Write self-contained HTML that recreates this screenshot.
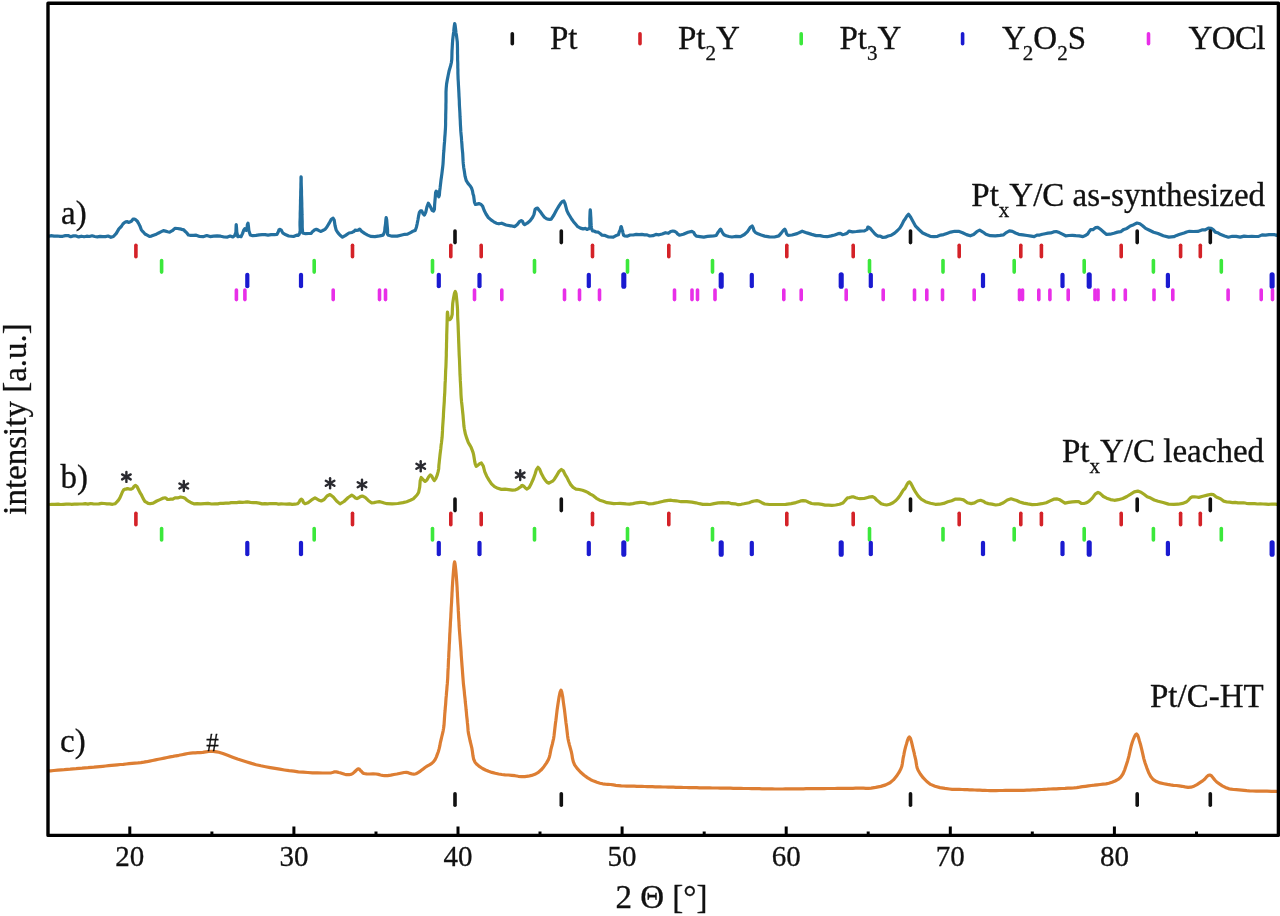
<!DOCTYPE html>
<html><head><meta charset="utf-8"><style>
html,body{margin:0;padding:0;background:#fff;}
svg{display:block;filter:blur(0.5px);}
text{font-family:"Liberation Serif",serif;fill:#111;stroke:#111;stroke-width:0.3px;}
</style></head><body>
<svg width="1280" height="916" viewBox="0 0 1280 916">
<rect width="1280" height="916" fill="#fff"/>
<polyline fill="none" stroke="#24709f" stroke-width="3.2" stroke-linejoin="round" stroke-linecap="round" points="49.4,236.1 50.9,235.7 54.1,236.2 57.4,236.0 60.1,236.3 62.7,236.3 65.4,235.6 68.1,235.5 70.7,236.7 73.4,235.9 76.1,235.9 78.7,236.9 81.4,236.2 84.1,236.7 86.7,236.2 89.4,236.5 92.1,235.8 94.7,236.5 97.4,236.8 100.1,236.4 102.7,236.7 105.4,236.6 108.1,236.0 110.9,237.3 113.4,236.5 116.3,233.4 118.9,228.9 121.3,226.5 122.9,224.0 124.4,222.6 126.0,221.8 127.3,221.6 128.5,222.4 129.8,221.9 131.4,221.3 133.0,219.1 134.5,219.0 135.9,219.9 137.1,220.9 138.4,223.1 139.9,225.9 141.4,230.0 143.1,231.8 145.0,234.0 147.2,235.2 149.4,236.4 151.4,236.1 153.5,235.3 155.6,234.6 158.2,233.2 160.8,231.9 163.4,230.6 165.5,231.1 167.6,231.7 169.7,232.1 172.3,230.7 174.9,228.4 177.5,228.5 179.7,228.8 181.8,229.4 183.8,229.9 185.3,231.6 186.7,232.7 188.4,235.0 190.8,235.4 193.4,235.3 196.2,235.2 199.6,236.5 203.1,236.7 206.7,235.5 210.1,236.6 213.6,236.1 217.1,235.8 220.6,236.2 224.2,237.0 227.5,237.1 230.2,236.1 232.8,237.0 234.8,235.4 235.9,232.4 236.1,226.5 236.2,224.5 236.5,227.4 236.8,232.2 237.8,236.7 238.8,236.4 239.9,236.3 241.0,236.7 242.5,233.6 243.7,230.2 244.8,228.6 245.3,229.5 245.8,230.0 246.2,230.4 246.9,229.3 247.4,224.4 248.0,223.1 248.4,225.9 248.9,230.8 250.3,234.9 252.8,235.7 256.0,235.4 259.2,234.9 262.1,234.7 265.1,234.7 268.0,235.1 271.2,234.6 274.4,234.7 276.9,234.5 278.2,232.0 279.0,229.7 280.0,229.4 281.3,230.1 282.7,232.9 284.7,234.3 288.7,236.0 293.5,236.5 297.2,235.1 298.4,235.3 299.2,234.4 299.8,232.4 300.2,230.8 300.1,227.7 300.0,225.2 300.0,222.0 300.1,219.8 300.2,217.2 300.2,213.5 300.3,210.8 300.4,209.0 300.4,206.7 300.5,203.0 300.5,200.6 300.6,198.1 300.7,195.0 300.7,192.4 300.8,189.6 300.9,187.0 300.9,184.6 301.0,180.9 301.0,177.7 301.1,176.8 301.2,177.4 301.2,181.8 301.3,185.7 301.4,188.0 301.5,190.9 301.5,194.7 301.6,196.9 301.7,199.8 301.8,203.1 301.8,206.5 301.9,208.6 302.0,211.9 302.0,214.9 302.1,218.6 302.2,221.0 302.2,224.7 302.2,226.9 302.4,229.8 302.6,231.6 302.8,233.1 303.4,233.3 305.6,233.7 308.7,233.5 311.2,233.4 312.4,231.7 313.3,231.0 314.4,230.0 316.3,229.3 318.5,230.3 320.6,231.4 322.8,230.5 324.9,229.4 326.9,227.0 329.2,223.2 331.3,219.3 333.1,218.2 334.2,220.1 335.0,225.5 336.2,230.2 338.0,232.9 340.1,235.3 342.5,237.2 345.6,235.4 349.0,233.0 351.9,232.5 353.0,231.8 354.0,231.4 355.0,230.2 356.5,230.4 358.2,230.1 359.7,229.1 360.8,230.4 361.7,231.4 362.8,232.1 365.0,233.6 367.7,235.1 370.6,236.4 374.9,236.6 379.6,235.9 383.1,235.1 384.2,232.8 384.7,231.1 385.0,227.4 385.5,224.3 385.9,219.4 386.2,217.6 386.7,219.9 387.1,224.9 387.5,229.1 387.6,231.0 387.6,234.4 388.5,235.3 392.1,236.2 397.2,236.1 401.9,235.0 404.8,234.3 407.5,234.2 410.0,232.9 411.9,231.8 413.7,230.9 415.2,230.5 416.4,227.2 417.1,224.1 417.9,220.0 418.6,215.9 419.4,212.4 420.5,210.8 421.7,210.9 423.1,213.8 424.4,215.0 425.8,212.0 426.9,207.1 428.3,203.2 430.1,206.1 432.1,210.3 433.6,211.1 434.4,209.3 434.6,205.1 434.9,201.3 435.3,196.9 435.6,192.7 436.2,191.2 437.0,191.8 438.0,195.0 438.8,196.8 439.4,194.9 439.7,190.7 440.1,187.9 440.5,184.4 441.0,180.0 441.4,177.2 441.9,173.6 442.3,170.3 442.7,167.0 443.0,164.1 443.2,160.8 443.4,157.2 443.6,153.6 443.9,150.5 444.1,147.0 444.3,144.3 444.6,141.2 444.8,137.5 445.1,133.8 445.3,130.6 445.5,127.6 445.6,124.7 445.6,121.6 445.7,117.8 445.7,115.1 445.8,111.6 445.9,108.1 445.9,104.7 446.0,101.6 446.0,98.6 446.0,95.0 446.0,92.1 446.2,88.4 446.6,83.9 447.3,79.9 448.1,75.7 449.2,70.4 450.4,66.6 451.4,62.3 451.8,59.2 451.9,55.6 452.0,51.1 452.2,48.0 452.4,44.1 452.7,39.8 453.0,37.1 453.4,33.9 453.7,32.0 454.0,28.4 454.4,25.2 454.7,23.5 455.1,25.1 455.6,29.2 456.0,33.0 456.5,35.6 457.0,39.6 457.3,42.0 457.4,45.0 457.5,48.6 457.5,50.2 457.5,53.0 457.6,55.8 457.6,59.6 457.7,61.3 457.8,63.8 457.8,67.7 457.9,69.4 457.9,73.1 458.0,75.6 458.1,78.8 458.3,81.8 458.4,84.2 458.6,87.5 458.7,89.3 458.9,93.2 459.0,95.8 459.2,99.0 459.3,101.0 459.4,104.9 459.6,108.0 459.7,109.7 459.9,113.0 460.0,116.2 460.2,119.5 460.3,121.6 460.4,124.4 460.6,127.4 460.8,131.2 461.1,134.7 461.4,137.5 461.6,140.7 461.9,144.1 462.1,147.3 462.4,150.7 462.7,153.5 462.9,157.4 463.1,161.2 463.3,163.7 463.7,167.5 464.3,171.1 465.1,176.4 466.3,180.7 468.0,183.4 470.0,185.7 471.6,188.2 472.5,191.0 473.0,194.0 473.6,195.6 474.0,198.4 474.5,202.3 475.5,204.5 477.0,204.1 478.9,203.6 480.7,204.2 482.6,206.1 484.1,210.3 486.0,214.0 488.3,217.5 491.0,219.9 493.8,221.8 496.3,223.2 498.9,223.8 501.7,223.2 506.0,225.0 510.7,225.8 514.8,226.6 517.3,224.5 519.4,221.7 521.3,220.5 522.5,221.3 523.5,223.7 524.7,224.6 527.2,223.2 530.1,220.7 532.5,217.6 534.0,214.4 535.1,209.3 536.4,208.4 537.6,208.2 538.9,210.0 540.3,211.6 542.3,214.5 544.4,217.2 546.6,218.7 548.1,219.1 549.7,219.4 551.2,219.1 553.9,215.0 556.5,210.0 559.0,205.9 560.7,203.3 562.3,201.5 563.8,201.0 565.0,203.5 565.9,206.8 566.9,210.6 568.3,213.7 569.8,216.0 571.6,219.0 573.5,221.7 575.5,224.0 577.8,226.7 580.4,228.1 583.1,228.9 585.6,228.4 587.0,229.5 588.2,228.9 589.2,228.6 589.9,226.8 589.8,222.3 589.8,218.8 589.9,216.0 590.1,211.4 590.3,209.8 590.5,211.8 590.7,215.6 590.9,218.3 591.0,222.0 591.2,225.4 591.5,228.0 591.7,228.5 592.0,229.8 592.5,230.9 594.0,231.0 596.0,232.0 598.1,232.2 600.1,233.5 602.1,235.2 604.4,235.3 608.6,237.0 613.3,237.2 616.9,235.2 618.4,234.8 619.3,231.8 620.0,230.4 620.5,228.8 620.9,226.7 621.2,226.6 621.6,227.5 622.0,229.6 622.5,230.7 623.0,233.1 623.6,235.2 624.7,236.0 627.1,236.2 630.2,235.0 633.3,235.0 636.2,234.4 639.1,234.6 641.9,234.4 644.5,234.8 647.1,234.9 649.7,236.0 652.8,235.7 655.9,234.4 659.0,234.8 662.2,234.0 665.4,232.7 668.4,233.3 670.7,231.5 672.8,231.0 674.7,231.4 676.3,232.3 677.6,233.9 679.4,235.2 683.3,234.3 688.0,232.3 691.9,231.4 693.6,232.3 694.9,234.8 696.6,236.2 699.9,236.6 703.8,237.1 707.5,236.4 710.6,236.1 713.7,235.8 716.2,235.5 718.0,232.4 719.3,230.6 720.6,229.1 721.7,231.1 722.6,232.9 724.0,234.8 726.2,235.8 729.0,236.5 731.9,237.0 736.0,236.4 740.5,236.7 744.4,234.5 747.5,231.6 750.1,227.6 752.2,225.9 753.3,228.2 754.0,230.7 755.3,232.3 757.9,233.8 761.2,235.0 764.7,236.1 769.4,236.9 774.5,237.0 778.8,235.9 781.2,233.1 783.1,230.6 784.7,229.1 785.8,231.1 786.6,233.9 788.1,235.4 792.0,235.0 797.1,233.6 802.2,231.2 806.9,232.9 811.7,234.4 816.2,235.6 820.0,235.6 823.6,236.5 827.2,236.7 831.0,235.9 834.7,235.0 838.1,233.7 840.4,233.3 842.5,234.6 844.4,234.2 845.9,233.7 847.3,233.0 849.0,231.2 852.4,231.8 856.4,231.5 860.0,231.1 862.4,231.0 864.5,230.8 866.2,229.9 867.2,229.3 867.8,227.2 868.6,227.2 870.2,228.4 872.0,230.5 874.0,232.8 876.0,234.9 878.1,236.2 880.3,236.1 882.8,237.5 885.4,237.2 888.1,236.0 891.3,235.2 894.6,233.1 897.5,230.5 899.9,228.0 901.8,224.9 903.8,220.8 905.3,218.8 906.9,216.0 908.5,214.2 910.7,217.3 913.0,221.5 915.6,226.2 918.9,229.5 922.7,233.0 926.6,234.8 930.2,236.3 933.9,236.6 937.5,236.3 940.7,235.1 943.7,234.6 946.9,233.4 950.7,232.1 954.7,231.3 958.6,231.3 962.6,232.7 966.5,234.6 970.3,235.8 973.6,234.5 976.8,231.7 979.7,230.2 981.7,231.3 983.6,232.5 985.9,234.2 990.3,235.7 995.3,235.9 1000.0,235.4 1003.3,234.9 1006.3,232.6 1009.4,230.9 1012.4,231.4 1015.5,233.0 1018.8,234.3 1022.9,234.9 1027.2,235.5 1031.2,236.2 1034.2,236.7 1036.9,235.2 1039.6,235.1 1042.4,234.2 1045.1,233.7 1047.9,233.2 1050.7,232.9 1053.5,231.9 1056.2,231.5 1059.3,232.6 1062.4,234.2 1065.6,235.8 1068.9,235.5 1072.3,235.3 1075.8,235.7 1079.3,235.9 1082.9,236.6 1085.9,235.2 1087.6,234.1 1089.0,231.9 1090.6,229.6 1092.9,229.7 1095.4,227.7 1098.0,227.4 1100.8,229.6 1103.6,231.9 1106.6,234.4 1110.1,234.2 1113.9,233.2 1117.5,232.1 1120.7,231.7 1123.8,229.4 1126.9,228.4 1130.3,226.0 1133.7,224.7 1137.0,223.0 1139.9,223.8 1142.6,225.7 1145.6,228.4 1149.5,230.3 1153.6,232.2 1158.0,233.6 1163.3,235.8 1168.8,237.1 1173.8,236.7 1176.6,235.4 1179.1,234.5 1181.6,233.7 1184.1,233.0 1186.6,232.0 1189.4,231.3 1193.4,231.5 1197.8,231.4 1201.9,229.9 1205.2,229.9 1208.4,228.1 1211.2,228.4 1213.4,229.9 1215.3,232.1 1217.5,232.7 1220.8,234.6 1224.6,236.0 1228.4,237.2 1232.3,236.3 1236.2,236.4 1240.2,237.1 1244.1,236.1 1248.0,236.5 1251.9,236.4 1255.3,236.5 1258.7,236.4 1262.1,234.9 1265.6,235.2 1269.1,234.7 1272.2,234.7 1274.3,234.5 1276.2,235.4 1277.0,235.0"/><polyline fill="none" stroke="#a3ab25" stroke-width="3.2" stroke-linejoin="round" stroke-linecap="round" points="50.0,504.5 51.5,504.4 54.8,504.4 58.1,504.2 60.8,504.5 63.5,504.3 66.2,504.1 69.0,504.0 71.7,504.3 74.4,504.2 77.1,504.2 79.8,504.0 82.5,504.0 85.2,503.7 87.9,504.1 90.6,503.5 93.3,503.8 96.0,504.0 98.8,503.9 101.5,503.4 104.2,503.5 106.9,503.9 109.7,503.9 112.5,504.3 115.0,503.8 116.9,501.9 118.5,500.1 120.0,497.7 121.3,494.7 122.4,492.0 123.8,489.7 124.9,489.2 126.2,489.2 127.5,488.5 128.8,489.0 130.0,489.2 131.2,489.2 132.7,488.4 134.2,486.3 135.6,485.3 137.1,486.7 138.6,489.8 140.0,492.6 141.6,495.2 143.2,498.6 145.0,501.6 146.5,502.3 148.2,503.4 150.0,503.7 153.2,503.1 156.8,501.0 160.0,499.6 161.8,498.8 163.5,498.0 165.0,497.9 166.3,498.3 167.4,499.5 168.8,499.5 170.7,499.1 172.8,499.1 175.0,497.9 177.7,497.9 180.5,497.0 183.1,497.5 185.1,498.3 186.9,500.2 188.8,501.3 190.3,502.2 191.9,503.1 193.8,503.8 197.0,503.7 200.7,503.8 204.4,503.6 208.0,503.4 211.6,504.0 215.0,503.8 217.8,503.9 220.5,503.3 223.1,503.3 225.8,503.1 228.5,503.2 231.2,502.6 234.0,502.6 236.7,502.6 239.4,502.1 242.1,502.3 244.8,502.2 247.5,501.9 250.4,502.3 253.3,502.6 256.2,502.7 259.2,503.1 262.1,503.9 265.0,503.6 267.7,503.8 270.4,503.5 273.1,503.6 275.8,503.5 278.5,504.1 281.2,503.9 284.0,504.0 286.7,504.1 289.4,503.8 292.2,504.3 295.1,504.2 297.5,503.7 299.0,502.4 300.1,500.1 301.2,499.1 302.4,500.0 303.5,502.5 305.0,503.7 308.0,502.8 311.6,499.9 315.0,497.9 317.2,499.2 319.2,500.3 321.2,501.0 324.1,499.5 327.0,496.0 330.0,494.5 333.3,497.0 336.6,501.0 340.0,503.9 344.0,501.5 348.2,497.5 351.8,495.2 353.7,496.3 355.3,497.9 357.0,498.6 358.7,497.8 360.4,496.6 362.3,496.0 365.2,497.4 368.3,500.4 371.4,502.8 374.0,502.6 376.7,502.0 379.3,501.6 381.8,502.2 384.3,503.0 387.1,503.7 392.1,503.9 397.7,503.5 402.9,502.6 406.7,501.7 410.3,500.3 413.3,498.9 415.4,496.7 417.2,494.7 418.6,492.5 419.7,487.1 420.2,480.7 421.2,477.5 422.4,478.8 423.7,480.3 425.1,481.4 426.9,480.0 428.7,476.8 430.4,474.9 431.8,476.2 433.1,478.9 434.3,480.6 435.8,478.6 437.2,475.2 438.2,471.4 438.7,468.7 438.9,465.2 439.2,462.5 439.5,459.5 439.8,456.9 440.1,454.0 440.5,451.0 440.8,448.5 441.1,445.3 441.5,442.7 441.8,439.8 442.1,437.3 442.3,434.1 442.5,430.9 442.6,427.8 442.8,425.0 443.0,422.2 443.2,419.2 443.4,416.3 443.5,413.3 443.7,409.9 443.9,406.8 444.1,404.2 444.3,401.2 444.4,398.0 444.6,395.2 444.8,392.0 444.9,389.0 445.0,386.2 445.1,383.3 445.3,380.9 445.4,378.3 445.5,375.5 445.6,372.4 445.7,369.8 445.9,367.2 446.0,364.3 446.1,361.4 446.2,358.4 446.3,355.6 446.3,352.5 446.4,349.6 446.5,347.0 446.5,344.3 446.6,341.1 446.7,338.2 446.7,335.2 446.8,332.4 446.9,329.3 447.0,325.6 447.1,322.5 447.2,317.8 447.3,313.8 447.5,312.0 447.7,313.7 448.1,317.4 448.8,319.5 449.6,319.6 450.6,318.9 451.4,317.7 452.2,314.4 452.4,308.9 452.7,303.6 453.5,298.3 454.4,293.5 455.3,291.4 456.1,293.8 456.8,300.5 457.3,306.1 457.5,309.1 457.6,312.0 457.6,314.7 457.7,317.2 457.8,319.6 458.0,322.8 458.1,325.1 458.2,327.9 458.3,331.0 458.4,333.3 458.5,336.0 458.6,339.2 458.7,341.9 458.8,344.2 458.9,347.0 459.0,349.6 459.1,352.3 459.2,355.1 459.4,358.3 459.5,360.4 459.6,363.2 459.7,365.9 459.8,368.6 459.9,371.6 460.0,374.7 460.2,377.6 460.3,380.4 460.5,383.5 460.6,385.8 460.8,388.9 460.9,392.3 461.0,394.5 461.2,397.6 461.5,401.2 461.9,404.6 462.3,408.3 462.6,411.5 463.0,415.1 463.3,419.1 463.6,422.0 463.9,426.0 464.4,429.1 465.4,434.1 466.8,438.4 468.3,442.5 469.7,444.9 471.1,447.3 472.3,450.4 473.1,452.6 473.7,455.2 474.2,458.3 474.7,461.4 475.2,463.9 476.2,466.3 477.7,465.4 479.6,463.8 481.4,463.0 483.3,466.1 484.8,471.8 486.7,476.2 489.0,480.1 491.5,483.8 494.5,486.6 497.8,488.3 501.4,489.4 505.0,489.2 508.6,489.6 512.3,490.2 515.5,489.8 517.5,489.1 519.3,487.7 520.7,486.8 521.3,486.6 521.7,485.6 522.3,485.4 523.7,486.2 525.4,488.0 527.0,489.1 529.2,487.4 531.3,483.4 533.3,479.0 535.0,474.3 536.4,469.6 538.0,467.3 539.7,469.3 541.5,473.8 543.4,477.3 545.1,480.0 547.0,482.3 548.9,483.2 550.7,482.2 552.6,481.2 554.4,479.2 556.8,475.3 559.1,471.4 561.4,469.5 563.3,470.8 565.1,474.6 566.9,477.4 568.8,481.3 570.7,484.6 573.1,487.4 576.0,489.1 579.3,489.5 582.5,490.3 585.2,491.2 587.7,492.4 590.3,494.1 593.3,495.7 596.4,498.3 599.7,500.2 603.2,501.3 607.0,502.7 610.6,503.2 613.8,503.6 616.9,503.5 620.0,503.4 623.1,503.6 626.2,503.9 629.4,504.1 632.9,503.6 636.6,502.8 640.3,502.4 644.4,502.5 648.5,503.8 652.8,503.6 658.1,502.5 663.5,501.2 668.4,500.4 671.1,500.2 673.5,500.7 676.2,500.8 681.2,501.7 686.7,501.7 691.9,502.2 695.8,502.8 699.4,503.7 702.8,504.3 705.2,504.3 707.5,504.4 710.0,504.5 714.0,503.6 718.3,502.9 722.5,502.7 725.7,502.8 728.8,502.7 731.9,503.7 735.0,503.8 738.2,504.7 741.2,504.3 743.9,503.8 746.5,503.2 749.1,502.7 751.7,501.6 754.3,501.0 756.9,500.6 759.4,501.3 761.9,502.7 764.7,504.0 769.5,504.5 774.9,504.5 780.3,504.5 785.7,504.4 791.2,503.6 795.9,502.6 798.5,501.7 800.7,500.9 803.0,500.6 805.8,500.9 808.6,502.2 811.6,503.5 814.9,503.9 818.3,503.9 821.8,504.4 825.1,505.1 828.5,505.2 831.9,505.4 835.7,505.0 839.6,504.3 842.8,503.1 844.5,501.2 845.9,499.6 847.5,497.8 849.5,497.6 851.6,496.9 853.8,496.9 855.8,497.7 857.7,498.2 860.0,498.7 864.0,498.5 868.6,497.2 872.5,496.6 874.8,497.9 876.7,500.1 878.8,501.7 881.2,503.7 883.9,504.5 886.6,505.0 889.8,504.3 893.0,502.7 895.9,500.5 898.3,497.9 900.4,494.8 902.2,491.9 903.4,490.0 904.5,489.1 905.6,487.3 906.9,484.7 908.2,482.7 909.5,481.9 910.8,483.4 912.0,485.5 913.4,488.4 915.6,492.2 918.1,495.8 921.2,499.2 925.5,501.7 930.4,503.3 935.3,504.3 939.5,504.2 943.7,503.4 947.8,501.8 951.7,500.7 955.6,499.1 959.5,499.0 963.5,499.9 967.4,502.7 971.2,503.6 974.5,502.9 977.6,501.0 980.6,500.3 983.2,501.2 985.7,502.8 988.4,503.6 991.9,504.1 995.7,505.0 999.4,504.5 1003.4,502.7 1007.3,500.0 1011.1,498.8 1014.0,499.7 1016.7,500.5 1019.7,502.0 1023.6,503.1 1027.9,503.9 1032.2,504.6 1036.9,504.5 1041.7,503.7 1046.2,502.7 1050.1,500.9 1053.8,499.2 1057.2,498.9 1059.9,499.8 1062.3,501.4 1065.0,503.1 1068.5,502.4 1072.3,501.9 1075.9,501.6 1078.7,501.7 1081.3,503.4 1083.8,503.5 1085.7,503.0 1087.5,502.2 1089.4,500.9 1092.3,498.1 1095.2,494.1 1098.0,492.4 1099.8,493.2 1101.4,494.6 1103.4,496.5 1106.7,498.2 1110.5,499.6 1114.4,500.3 1118.5,499.7 1122.8,498.5 1126.9,496.5 1130.7,494.2 1134.3,491.9 1137.8,491.1 1141.0,492.2 1144.0,494.3 1147.2,496.7 1150.7,498.1 1154.2,500.0 1158.1,501.3 1163.1,502.5 1168.5,504.1 1173.8,504.3 1178.2,504.2 1182.5,503.4 1186.2,502.1 1188.5,500.1 1190.5,497.7 1192.5,496.8 1194.5,496.8 1196.5,497.0 1198.8,497.4 1202.8,496.2 1207.3,495.1 1211.2,494.3 1213.5,494.7 1215.4,496.3 1217.5,497.6 1220.5,498.8 1223.7,501.1 1226.9,502.0 1229.7,502.2 1232.5,502.6 1235.2,502.4 1238.0,502.9 1240.8,502.9 1243.6,502.8 1246.3,503.3 1249.1,503.7 1251.9,503.6 1254.7,503.7 1257.5,504.0 1260.2,503.8 1263.0,504.0 1265.8,504.1 1268.6,504.4 1272.0,504.0 1275.4,504.1 1276.9,504.4"/><polyline fill="none" stroke="#dd7e33" stroke-width="3.2" stroke-linejoin="round" stroke-linecap="round" points="49.4,770.9 50.7,770.8 53.9,770.5 57.7,770.2 61.3,769.9 64.2,769.7 67.2,769.4 70.2,769.2 73.2,768.9 76.1,768.7 79.1,768.4 82.1,768.2 85.0,767.9 88.0,767.7 91.0,767.4 93.9,767.2 96.9,766.9 99.8,766.6 102.8,766.3 105.7,766.0 108.6,765.7 111.5,765.4 114.5,765.1 117.4,764.8 120.3,764.5 123.3,764.3 126.2,764.0 129.1,763.7 132.0,763.4 135.0,763.1 137.9,762.9 140.8,762.6 143.8,762.2 146.7,761.7 149.6,761.1 152.5,760.5 155.5,759.9 158.4,759.3 161.3,758.7 164.3,758.1 167.2,757.5 170.1,756.9 173.0,756.4 176.0,755.8 178.9,755.3 181.9,754.7 184.8,754.1 187.8,753.5 190.6,753.1 193.0,752.9 195.3,752.8 197.6,752.7 200.0,752.6 202.8,752.3 205.7,751.9 208.6,751.5 211.2,751.4 213.2,751.4 214.9,751.6 216.7,751.9 218.8,752.3 222.9,753.5 227.6,755.3 232.6,757.2 237.5,759.0 242.2,760.5 246.9,762.0 251.5,763.4 256.2,764.7 260.9,765.8 265.6,766.7 270.3,767.6 275.0,768.4 279.7,769.2 284.4,770.0 289.1,770.7 293.8,771.2 298.4,771.8 303.1,772.2 307.8,772.5 312.5,772.8 317.5,772.9 322.8,773.0 327.6,773.0 331.2,772.8 332.4,772.5 333.3,772.2 334.1,771.9 335.0,771.8 336.2,771.9 337.4,772.1 338.7,772.5 340.0,772.8 341.5,773.3 343.1,773.8 344.7,774.3 346.2,774.6 347.7,774.7 349.2,774.6 350.6,774.4 351.9,774.0 352.9,773.4 353.8,772.6 354.7,771.8 355.5,771.0 356.2,770.3 357.0,769.6 357.7,769.0 358.4,768.8 359.1,769.0 359.7,769.6 360.3,770.3 361.0,771.0 361.7,771.7 362.3,772.3 363.0,773.0 364.0,773.5 366.5,773.9 369.7,774.0 373.1,773.9 376.2,774.0 378.4,774.4 380.5,775.0 382.5,775.4 384.7,775.7 387.6,775.6 390.8,775.1 393.9,774.5 396.9,774.0 399.4,773.5 401.7,773.0 404.0,772.5 406.2,772.4 408.2,772.7 410.2,773.4 412.1,774.0 413.8,774.2 414.9,774.0 415.9,773.7 416.9,773.3 418.0,772.7 419.6,771.7 421.4,770.3 423.2,768.9 425.0,767.5 427.1,766.2 429.4,764.9 431.5,763.6 433.4,761.9 435.0,759.7 436.3,757.1 437.3,754.4 438.3,751.7 439.1,748.9 439.8,745.9 440.3,742.9 441.0,740.0 441.7,737.0 442.4,734.1 443.1,731.1 443.6,728.2 444.0,725.3 444.2,722.3 444.4,719.4 444.6,716.4 444.8,713.5 445.1,710.5 445.3,707.6 445.6,704.6 445.8,701.6 446.0,698.7 446.3,695.7 446.5,692.8 446.8,689.8 447.0,686.9 447.3,683.9 447.5,681.0 447.7,678.3 447.8,675.7 447.9,673.1 448.0,670.5 448.2,667.9 448.3,665.3 448.4,662.7 448.5,660.0 448.7,657.4 448.8,654.8 448.9,652.2 449.1,649.6 449.2,646.9 449.3,644.3 449.5,641.7 449.6,639.1 449.7,636.5 449.8,633.9 450.0,631.3 450.1,628.6 450.3,625.7 450.4,622.7 450.6,619.8 450.8,616.8 450.9,613.8 451.1,610.9 451.2,608.0 451.4,605.0 451.6,602.0 451.7,599.1 451.9,596.2 452.0,593.2 452.2,590.3 452.3,587.5 452.5,584.6 452.7,581.4 453.1,575.9 453.6,569.5 454.1,564.1 454.6,561.8 455.1,564.1 455.7,569.5 456.3,575.9 456.7,581.4 456.9,584.6 457.1,587.5 457.2,590.3 457.4,593.2 457.5,596.1 457.7,599.1 457.8,602.0 458.0,605.0 458.2,608.0 458.3,610.9 458.5,613.9 458.6,616.8 458.8,619.8 459.0,622.7 459.1,625.7 459.3,628.6 459.5,631.3 459.7,633.9 459.9,636.5 460.1,639.1 460.3,641.7 460.5,644.3 460.7,646.9 460.9,649.6 461.1,652.2 461.2,654.8 461.4,657.4 461.6,660.0 461.8,662.7 462.0,665.3 462.2,667.9 462.4,670.5 462.6,673.1 462.8,675.8 463.0,678.4 463.2,681.0 463.4,683.6 463.7,686.2 464.0,688.9 464.3,691.5 464.5,694.1 464.8,696.7 465.1,699.3 465.3,702.0 465.6,704.6 465.9,707.2 466.1,709.8 466.4,712.4 466.6,715.1 466.9,717.7 467.2,720.3 467.4,722.9 467.7,725.5 467.9,728.1 468.1,730.7 468.5,733.4 469.2,736.8 470.0,740.5 470.9,744.1 471.8,747.8 472.4,751.5 472.9,755.4 473.6,759.0 475.0,762.2 477.1,764.6 479.7,766.7 482.5,768.5 485.5,770.0 488.6,771.3 491.9,772.4 495.3,773.3 498.6,774.0 501.9,774.5 505.1,774.8 508.4,775.0 511.7,775.3 515.0,775.7 518.3,776.3 521.5,776.6 524.8,776.6 528.2,776.2 531.6,775.4 534.9,774.3 537.9,772.7 541.0,770.1 543.9,766.7 546.4,763.1 548.4,759.6 549.4,757.0 550.0,754.3 550.5,751.7 551.0,749.1 551.7,746.5 552.4,743.9 553.0,741.2 553.6,738.6 554.0,736.0 554.3,733.4 554.6,730.8 554.9,728.1 555.2,725.5 555.5,722.9 555.9,720.3 556.2,717.7 556.5,715.1 556.8,712.6 557.1,710.0 557.5,707.2 558.2,702.4 559.1,696.8 560.1,692.1 561.0,690.2 561.8,692.2 562.7,696.8 563.4,702.4 564.1,707.2 564.5,710.0 564.8,712.6 565.1,715.1 565.4,717.7 565.7,720.3 566.0,722.9 566.4,725.5 566.7,728.1 567.0,730.7 567.3,733.3 567.6,735.9 568.0,738.6 568.7,741.8 569.5,745.1 570.4,748.4 571.3,751.7 572.0,755.0 572.5,758.4 573.3,761.6 574.6,764.8 577.1,768.4 580.4,772.0 584.1,775.2 587.7,777.9 590.7,779.7 593.8,781.1 596.9,782.3 600.0,783.2 602.7,783.8 605.3,784.1 608.0,784.3 610.6,784.5 613.3,784.9 615.9,785.3 618.6,785.6 621.2,785.9 623.9,786.0 626.5,786.1 629.1,786.1 631.7,786.2 634.3,786.2 636.9,786.3 639.5,786.4 642.1,786.4 644.7,786.5 647.3,786.6 649.9,786.6 652.5,786.7 655.1,786.8 657.7,786.8 660.3,786.9 662.9,787.0 665.5,787.0 668.1,787.1 670.7,787.2 673.3,787.2 675.9,787.3 678.5,787.4 681.1,787.4 683.8,787.5 686.4,787.5 689.0,787.6 691.6,787.6 694.2,787.7 696.8,787.7 699.4,787.8 702.0,787.8 704.6,787.8 707.2,787.9 709.8,787.9 712.4,788.0 715.0,788.0 717.6,788.0 720.2,788.1 722.8,788.1 725.4,788.2 728.0,788.2 730.6,788.2 733.2,788.3 735.8,788.3 738.4,788.4 741.0,788.4 743.6,788.5 746.2,788.5 748.9,788.5 751.5,788.6 754.1,788.6 756.7,788.7 759.3,788.7 761.9,788.8 764.5,788.8 767.1,788.8 769.7,788.9 772.3,788.9 774.9,789.0 777.5,789.0 780.1,789.0 782.7,789.0 785.3,788.9 787.9,788.9 790.5,788.9 793.1,788.9 795.7,788.8 798.3,788.8 800.9,788.8 803.5,788.8 806.1,788.7 808.8,788.7 811.4,788.7 814.0,788.7 816.6,788.6 819.2,788.6 821.8,788.6 824.4,788.6 827.0,788.5 829.6,788.5 832.2,788.5 834.8,788.5 837.4,788.4 840.0,788.4 842.6,788.4 845.2,788.4 847.8,788.3 850.4,788.3 853.0,788.3 855.6,788.2 858.2,788.2 860.8,788.2 863.4,788.2 865.9,788.3 868.5,788.3 871.2,788.1 875.7,787.4 880.8,786.4 885.7,784.9 890.0,782.8 893.4,779.9 896.4,776.3 899.0,772.4 900.9,768.8 901.9,766.0 902.4,763.3 902.8,760.6 903.2,757.8 903.8,755.1 904.3,752.3 904.9,749.6 905.6,746.9 906.5,743.9 907.4,740.6 908.4,738.0 909.4,736.9 910.5,738.4 911.5,741.9 912.5,746.2 913.4,750.0 914.1,752.6 914.6,755.1 915.2,757.6 915.8,760.1 916.2,762.7 916.6,765.2 917.1,767.7 918.1,770.3 920.3,774.0 923.3,777.9 926.8,781.5 930.6,784.4 935.0,786.3 940.0,787.6 944.9,788.4 949.4,789.0 952.1,789.3 954.7,789.4 957.1,789.4 959.5,789.4 962.1,789.5 964.6,789.6 967.2,789.7 969.7,789.8 972.2,789.9 974.8,790.0 977.3,790.1 979.9,790.2 982.4,790.3 984.9,790.4 987.4,790.5 990.0,790.6 993.0,790.6 996.1,790.6 999.2,790.5 1002.3,790.5 1005.4,790.4 1008.5,790.4 1011.5,790.4 1014.6,790.3 1017.7,790.3 1020.8,790.3 1023.8,790.3 1026.9,790.2 1029.8,790.1 1032.8,789.9 1035.7,789.8 1038.6,789.6 1041.5,789.5 1044.5,789.3 1047.4,789.2 1050.3,789.0 1053.3,788.9 1056.2,788.8 1059.1,788.6 1062.0,788.5 1065.0,788.4 1067.9,788.2 1070.8,788.1 1073.8,787.9 1076.7,787.6 1079.6,787.2 1082.5,786.7 1085.5,786.3 1088.4,785.9 1091.3,785.5 1094.3,785.2 1097.2,784.8 1100.1,784.5 1103.1,784.2 1106.0,783.9 1108.9,783.2 1112.0,782.2 1115.1,781.0 1118.1,779.4 1120.6,777.3 1122.9,774.0 1124.7,769.8 1126.2,765.3 1127.6,760.9 1128.9,756.2 1130.0,751.1 1131.1,746.3 1132.3,742.2 1133.3,739.5 1134.4,736.8 1135.5,734.8 1136.5,734.0 1137.6,735.1 1138.6,737.8 1139.5,741.2 1140.5,744.5 1141.6,748.8 1142.7,753.7 1143.8,758.6 1145.2,763.3 1146.8,767.8 1148.6,772.4 1150.7,776.5 1153.4,779.7 1156.5,781.6 1160.1,782.9 1163.9,783.7 1167.5,784.4 1170.5,784.9 1173.4,785.3 1176.3,785.5 1179.2,785.8 1182.1,786.3 1185.1,786.9 1188.0,787.4 1190.9,787.2 1194.0,786.2 1197.0,784.6 1199.9,782.7 1202.6,780.9 1204.6,779.2 1206.3,777.2 1208.0,775.6 1209.7,775.0 1211.4,775.8 1213.0,777.7 1214.8,780.0 1216.7,782.0 1219.4,783.9 1222.3,785.8 1225.4,787.4 1228.4,788.6 1231.0,789.2 1233.7,789.5 1236.3,789.6 1239.0,789.8 1241.6,790.1 1244.1,790.4 1246.8,790.7 1249.5,790.9 1252.8,791.0 1256.1,791.1 1259.6,791.1 1263.0,791.1 1267.0,791.2 1271.4,791.3 1275.0,791.4 1276.5,791.4"/><g stroke="#111" stroke-width="3.6" stroke-linecap="round"><line x1="455.0" y1="231.1" x2="455.0" y2="242.6"/><line x1="561.3" y1="231.1" x2="561.3" y2="242.6"/><line x1="910.5" y1="231.1" x2="910.5" y2="242.6"/><line x1="1137.2" y1="231.1" x2="1137.2" y2="242.6"/><line x1="1210.3" y1="231.1" x2="1210.3" y2="242.6"/></g><g stroke="#d42228" stroke-width="3.6" stroke-linecap="round"><line x1="135.9" y1="245.2" x2="135.9" y2="256.8"/><line x1="352.5" y1="245.2" x2="352.5" y2="256.8"/><line x1="450.8" y1="245.2" x2="450.8" y2="256.8"/><line x1="481.2" y1="245.2" x2="481.2" y2="256.8"/><line x1="592.5" y1="245.2" x2="592.5" y2="256.8"/><line x1="668.8" y1="245.2" x2="668.8" y2="256.8"/><line x1="786.8" y1="245.2" x2="786.8" y2="256.8"/><line x1="853.2" y1="245.2" x2="853.2" y2="256.8"/><line x1="959.2" y1="245.2" x2="959.2" y2="256.8"/><line x1="1020.8" y1="245.2" x2="1020.8" y2="256.8"/><line x1="1041.4" y1="245.2" x2="1041.4" y2="256.8"/><line x1="1121.2" y1="245.2" x2="1121.2" y2="256.8"/><line x1="1180.6" y1="245.2" x2="1180.6" y2="256.8"/><line x1="1200.3" y1="245.2" x2="1200.3" y2="256.8"/></g><g stroke="#3be83b" stroke-width="3.6" stroke-linecap="round"><line x1="161.6" y1="260.6" x2="161.6" y2="272.1"/><line x1="314.2" y1="260.6" x2="314.2" y2="272.1"/><line x1="432.5" y1="260.6" x2="432.5" y2="272.1"/><line x1="534.5" y1="260.6" x2="534.5" y2="272.1"/><line x1="627.5" y1="260.6" x2="627.5" y2="272.1"/><line x1="712.5" y1="260.6" x2="712.5" y2="272.1"/><line x1="869.5" y1="260.6" x2="869.5" y2="272.1"/><line x1="943.0" y1="260.6" x2="943.0" y2="272.1"/><line x1="1014.2" y1="260.6" x2="1014.2" y2="272.1"/><line x1="1084.2" y1="260.6" x2="1084.2" y2="272.1"/><line x1="1153.4" y1="260.6" x2="1153.4" y2="272.1"/><line x1="1221.3" y1="260.6" x2="1221.3" y2="272.1"/></g><g stroke="#1a1ad0" stroke-width="4.2" stroke-linecap="round"><line x1="247.3" y1="274.8" x2="247.3" y2="286.2"/><line x1="301.0" y1="274.8" x2="301.0" y2="286.2"/><line x1="438.8" y1="274.8" x2="438.8" y2="286.2"/><line x1="479.5" y1="274.8" x2="479.5" y2="286.2"/><line x1="588.8" y1="274.8" x2="588.8" y2="286.2"/><line x1="623.8" y1="274.8" x2="623.8" y2="286.2" stroke-width="5.1"/><line x1="721.2" y1="274.8" x2="721.2" y2="286.2" stroke-width="5.1"/><line x1="751.8" y1="274.8" x2="751.8" y2="286.2"/><line x1="841.2" y1="274.8" x2="841.2" y2="286.2" stroke-width="5.1"/><line x1="870.8" y1="274.8" x2="870.8" y2="286.2"/><line x1="983.0" y1="274.8" x2="983.0" y2="286.2"/><line x1="1062.5" y1="274.8" x2="1062.5" y2="286.2"/><line x1="1089.2" y1="274.8" x2="1089.2" y2="286.2" stroke-width="5.1"/><line x1="1167.9" y1="274.8" x2="1167.9" y2="286.2"/><line x1="1272.1" y1="274.8" x2="1272.1" y2="286.2" stroke-width="5.1"/></g><g stroke="#e82ee8" stroke-width="3.6" stroke-linecap="round"><line x1="236.4" y1="290.1" x2="236.4" y2="299.6"/><line x1="244.9" y1="290.1" x2="244.9" y2="299.6"/><line x1="333.2" y1="290.1" x2="333.2" y2="299.6"/><line x1="379.5" y1="290.1" x2="379.5" y2="299.6"/><line x1="385.5" y1="290.1" x2="385.5" y2="299.6"/><line x1="474.5" y1="290.1" x2="474.5" y2="299.6"/><line x1="501.8" y1="290.1" x2="501.8" y2="299.6"/><line x1="564.5" y1="290.1" x2="564.5" y2="299.6"/><line x1="579.5" y1="290.1" x2="579.5" y2="299.6"/><line x1="599.5" y1="290.1" x2="599.5" y2="299.6"/><line x1="674.5" y1="290.1" x2="674.5" y2="299.6"/><line x1="692.0" y1="290.1" x2="692.0" y2="299.6"/><line x1="697.5" y1="290.1" x2="697.5" y2="299.6"/><line x1="715.0" y1="290.1" x2="715.0" y2="299.6"/><line x1="783.8" y1="290.1" x2="783.8" y2="299.6"/><line x1="801.2" y1="290.1" x2="801.2" y2="299.6"/><line x1="846.2" y1="290.1" x2="846.2" y2="299.6"/><line x1="883.2" y1="290.1" x2="883.2" y2="299.6"/><line x1="914.5" y1="290.1" x2="914.5" y2="299.6"/><line x1="926.8" y1="290.1" x2="926.8" y2="299.6"/><line x1="942.5" y1="290.1" x2="942.5" y2="299.6"/><line x1="974.2" y1="290.1" x2="974.2" y2="299.6"/><line x1="1019.5" y1="290.1" x2="1019.5" y2="299.6"/><line x1="1022.5" y1="290.1" x2="1022.5" y2="299.6"/><line x1="1038.8" y1="290.1" x2="1038.8" y2="299.6"/><line x1="1049.9" y1="290.1" x2="1049.9" y2="299.6"/><line x1="1068.2" y1="290.1" x2="1068.2" y2="299.6"/><line x1="1095.0" y1="290.1" x2="1095.0" y2="299.6"/><line x1="1098.0" y1="290.1" x2="1098.0" y2="299.6"/><line x1="1113.6" y1="290.1" x2="1113.6" y2="299.6"/><line x1="1125.3" y1="290.1" x2="1125.3" y2="299.6"/><line x1="1154.0" y1="290.1" x2="1154.0" y2="299.6"/><line x1="1172.8" y1="290.1" x2="1172.8" y2="299.6"/><line x1="1228.1" y1="290.1" x2="1228.1" y2="299.6"/><line x1="1261.2" y1="290.1" x2="1261.2" y2="299.6"/><line x1="1272.5" y1="290.1" x2="1272.5" y2="299.6"/></g><g stroke="#111" stroke-width="3.6" stroke-linecap="round"><line x1="455.0" y1="499.1" x2="455.0" y2="510.6"/><line x1="561.3" y1="499.1" x2="561.3" y2="510.6"/><line x1="910.5" y1="499.1" x2="910.5" y2="510.6"/><line x1="1137.2" y1="499.1" x2="1137.2" y2="510.6"/><line x1="1210.3" y1="499.1" x2="1210.3" y2="510.6"/></g><g stroke="#d42228" stroke-width="3.6" stroke-linecap="round"><line x1="135.9" y1="513.2" x2="135.9" y2="524.8"/><line x1="352.5" y1="513.2" x2="352.5" y2="524.8"/><line x1="450.8" y1="513.2" x2="450.8" y2="524.8"/><line x1="481.2" y1="513.2" x2="481.2" y2="524.8"/><line x1="592.5" y1="513.2" x2="592.5" y2="524.8"/><line x1="668.8" y1="513.2" x2="668.8" y2="524.8"/><line x1="786.8" y1="513.2" x2="786.8" y2="524.8"/><line x1="853.2" y1="513.2" x2="853.2" y2="524.8"/><line x1="959.2" y1="513.2" x2="959.2" y2="524.8"/><line x1="1020.8" y1="513.2" x2="1020.8" y2="524.8"/><line x1="1041.4" y1="513.2" x2="1041.4" y2="524.8"/><line x1="1121.2" y1="513.2" x2="1121.2" y2="524.8"/><line x1="1180.6" y1="513.2" x2="1180.6" y2="524.8"/><line x1="1200.3" y1="513.2" x2="1200.3" y2="524.8"/></g><g stroke="#3be83b" stroke-width="3.6" stroke-linecap="round"><line x1="161.6" y1="528.5" x2="161.6" y2="540.0"/><line x1="314.2" y1="528.5" x2="314.2" y2="540.0"/><line x1="432.5" y1="528.5" x2="432.5" y2="540.0"/><line x1="534.5" y1="528.5" x2="534.5" y2="540.0"/><line x1="627.5" y1="528.5" x2="627.5" y2="540.0"/><line x1="712.5" y1="528.5" x2="712.5" y2="540.0"/><line x1="869.5" y1="528.5" x2="869.5" y2="540.0"/><line x1="943.0" y1="528.5" x2="943.0" y2="540.0"/><line x1="1014.2" y1="528.5" x2="1014.2" y2="540.0"/><line x1="1084.2" y1="528.5" x2="1084.2" y2="540.0"/><line x1="1153.4" y1="528.5" x2="1153.4" y2="540.0"/><line x1="1221.3" y1="528.5" x2="1221.3" y2="540.0"/></g><g stroke="#1a1ad0" stroke-width="4.2" stroke-linecap="round"><line x1="247.3" y1="542.8" x2="247.3" y2="554.2"/><line x1="301.0" y1="542.8" x2="301.0" y2="554.2"/><line x1="438.8" y1="542.8" x2="438.8" y2="554.2"/><line x1="479.5" y1="542.8" x2="479.5" y2="554.2"/><line x1="588.8" y1="542.8" x2="588.8" y2="554.2"/><line x1="623.8" y1="542.8" x2="623.8" y2="554.2" stroke-width="5.1"/><line x1="721.2" y1="542.8" x2="721.2" y2="554.2" stroke-width="5.1"/><line x1="751.8" y1="542.8" x2="751.8" y2="554.2"/><line x1="841.2" y1="542.8" x2="841.2" y2="554.2" stroke-width="5.1"/><line x1="870.8" y1="542.8" x2="870.8" y2="554.2"/><line x1="983.0" y1="542.8" x2="983.0" y2="554.2"/><line x1="1062.5" y1="542.8" x2="1062.5" y2="554.2"/><line x1="1089.2" y1="542.8" x2="1089.2" y2="554.2" stroke-width="5.1"/><line x1="1167.9" y1="542.8" x2="1167.9" y2="554.2"/><line x1="1272.1" y1="542.8" x2="1272.1" y2="554.2" stroke-width="5.1"/></g><g stroke="#111" stroke-width="3.6" stroke-linecap="round"><line x1="455.0" y1="793.8" x2="455.0" y2="805.2"/><line x1="561.3" y1="793.8" x2="561.3" y2="805.2"/><line x1="910.5" y1="793.8" x2="910.5" y2="805.2"/><line x1="1137.2" y1="793.8" x2="1137.2" y2="805.2"/><line x1="1210.3" y1="793.8" x2="1210.3" y2="805.2"/></g><g stroke="#111" stroke-width="3.6" stroke-linecap="round"><line x1="512.3" y1="33.8" x2="512.3" y2="43.8"/></g><g stroke="#d42228" stroke-width="3.6" stroke-linecap="round"><line x1="640.0" y1="33.8" x2="640.0" y2="43.8"/></g><g stroke="#3be83b" stroke-width="3.6" stroke-linecap="round"><line x1="801.2" y1="33.8" x2="801.2" y2="43.8"/></g><g stroke="#1a1ad0" stroke-width="3.6" stroke-linecap="round"><line x1="962.6" y1="33.8" x2="962.6" y2="43.8"/></g><g stroke="#e82ee8" stroke-width="3.6" stroke-linecap="round"><line x1="1148.5" y1="33.8" x2="1148.5" y2="43.8"/></g><g stroke="#2a2a30" stroke-width="2.4" stroke-linecap="round"><line x1="126.4" y1="471.9" x2="126.4" y2="481.9"/><line x1="122.1" y1="474.4" x2="130.7" y2="479.4"/><line x1="122.1" y1="479.4" x2="130.7" y2="474.4"/></g><g stroke="#2a2a30" stroke-width="2.4" stroke-linecap="round"><line x1="183.8" y1="481.0" x2="183.8" y2="491.0"/><line x1="179.4" y1="483.5" x2="188.1" y2="488.5"/><line x1="179.4" y1="488.5" x2="188.1" y2="483.5"/></g><g stroke="#2a2a30" stroke-width="2.4" stroke-linecap="round"><line x1="330.1" y1="478.3" x2="330.1" y2="488.3"/><line x1="325.8" y1="480.8" x2="334.4" y2="485.8"/><line x1="325.8" y1="485.8" x2="334.4" y2="480.8"/></g><g stroke="#2a2a30" stroke-width="2.4" stroke-linecap="round"><line x1="362.0" y1="479.7" x2="362.0" y2="489.7"/><line x1="357.7" y1="482.2" x2="366.3" y2="487.2"/><line x1="357.7" y1="487.2" x2="366.3" y2="482.2"/></g><g stroke="#2a2a30" stroke-width="2.4" stroke-linecap="round"><line x1="420.7" y1="461.2" x2="420.7" y2="471.2"/><line x1="416.4" y1="463.8" x2="425.0" y2="468.8"/><line x1="416.4" y1="468.8" x2="425.0" y2="463.8"/></g><g stroke="#2a2a30" stroke-width="2.4" stroke-linecap="round"><line x1="520.2" y1="470.1" x2="520.2" y2="480.1"/><line x1="515.9" y1="472.6" x2="524.5" y2="477.6"/><line x1="515.9" y1="477.6" x2="524.5" y2="472.6"/></g>
<rect x="48" y="3.2" width="1230.4" height="832.2" fill="none" stroke="#000" stroke-width="3.4" stroke-linejoin="round"/><g stroke="#000" stroke-width="3"><line x1="129.8" y1="835" x2="129.8" y2="826.5"/><line x1="293.9" y1="835" x2="293.9" y2="826.5"/><line x1="458.0" y1="835" x2="458.0" y2="826.5"/><line x1="622.1" y1="835" x2="622.1" y2="826.5"/><line x1="786.2" y1="835" x2="786.2" y2="826.5"/><line x1="950.3" y1="835" x2="950.3" y2="826.5"/><line x1="1114.4" y1="835" x2="1114.4" y2="826.5"/><line x1="211.9" y1="835" x2="211.9" y2="831.5"/><line x1="376.0" y1="835" x2="376.0" y2="831.5"/><line x1="540.0" y1="835" x2="540.0" y2="831.5"/><line x1="704.2" y1="835" x2="704.2" y2="831.5"/><line x1="868.2" y1="835" x2="868.2" y2="831.5"/><line x1="1032.3" y1="835" x2="1032.3" y2="831.5"/><line x1="1196.5" y1="835" x2="1196.5" y2="831.5"/></g>
<text x="550.0" y="48.7" font-size="33" text-anchor="start" >Pt</text><text x="678.0" y="48.7" font-size="33" text-anchor="start" >Pt<tspan font-size="21" dy="11">2</tspan><tspan dy="-11">Y</tspan></text><text x="839.5" y="48.7" font-size="33" text-anchor="start" >Pt<tspan font-size="21" dy="11">3</tspan><tspan dy="-11">Y</tspan></text><text x="1002.0" y="48.7" font-size="33" text-anchor="start" >Y<tspan font-size="21" dy="11" dx="-3">2</tspan><tspan dy="-11">O</tspan><tspan font-size="21" dy="11">2</tspan><tspan dy="-11">S</tspan></text><text x="1188.5" y="48.7" font-size="33" text-anchor="start" letter-spacing="-0.6">YOCl</text><text x="61.0" y="223.6" font-size="33" text-anchor="start" >a)</text><text x="60.5" y="487.5" font-size="33" text-anchor="start" >b)</text><text x="60.0" y="752.0" font-size="33" text-anchor="start" >c)</text><text x="971.3" y="206.1" font-size="33" text-anchor="start" >Pt<tspan font-size="21" dy="11">x</tspan><tspan dy="-11">Y/C as-synthesized</tspan></text><text x="1062.0" y="462.2" font-size="33" text-anchor="start" >Pt<tspan font-size="21" dy="11">x</tspan><tspan dy="-11">Y/C leached</tspan></text><text x="1150.0" y="706.9" font-size="33" text-anchor="start" >Pt/C-HT</text><text x="212.5" y="750.5" font-size="25" text-anchor="middle" >#</text><text x="129.8" y="866.2" font-size="29" text-anchor="middle" >20</text><text x="293.9" y="866.2" font-size="29" text-anchor="middle" >30</text><text x="458.0" y="866.2" font-size="29" text-anchor="middle" >40</text><text x="622.1" y="866.2" font-size="29" text-anchor="middle" >50</text><text x="786.2" y="866.2" font-size="29" text-anchor="middle" >60</text><text x="950.3" y="866.2" font-size="29" text-anchor="middle" >70</text><text x="1114.4" y="866.2" font-size="29" text-anchor="middle" >80</text><text x="661.5" y="907.5" font-size="33" text-anchor="middle" >2 Θ [°]</text><text x="-419.0" y="25.5" font-size="33" text-anchor="middle" transform="rotate(-90)">intensity [a.u.]</text>
</svg></body></html>
